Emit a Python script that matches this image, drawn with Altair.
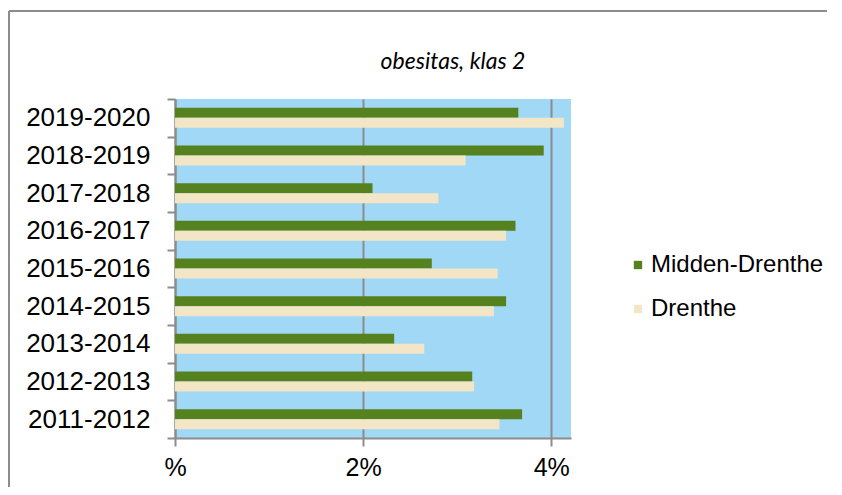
import altair as alt
import pandas as pd

years = ["2011-2012", "2012-2013", "2013-2014", "2014-2015", "2015-2016",
         "2016-2017", "2017-2018", "2018-2019", "2019-2020"]
midden_drenthe = [3.69, 3.16, 2.33, 3.52, 2.73, 3.62, 2.10, 3.92, 3.65]
drenthe = [3.45, 3.18, 2.65, 3.39, 3.43, 3.52, 2.80, 3.09, 4.135]
series = ["Midden-Drenthe", "Drenthe"]
colors = ["#55821E", "#F2E6C6"]
title_text = "obesitas, klas 2"

rows = []
for i, y in enumerate(years):
    rows.append({"jaar": y, "regio": series[0], "pct": midden_drenthe[i]})
    rows.append({"jaar": y, "regio": series[1], "pct": drenthe[i]})
df = pd.DataFrame(rows)

bars = alt.Chart(df).mark_bar().encode(
    x=alt.X("pct:Q",
            scale=alt.Scale(domain=[0, 4.21], nice=False, zero=True),
            axis=alt.Axis(values=[0, 2, 4], title=None, labelFlush=False,
                          labelExpr="datum.value == 0 ? '%' : datum.value + '%'",
                          labelFont="Liberation Sans", labelFontSize=25,
                          labelColor="#000000", labelPadding=9,
                          tickSize=8, tickColor="#8C8C8C", tickWidth=2,
                          domainColor="#8C8C8C", domainWidth=2,
                          grid=True, gridColor="#8C8C8C", gridWidth=2)),
    y=alt.Y("jaar:N", sort=list(reversed(years)),
            scale=alt.Scale(paddingInner=0, paddingOuter=0),
            axis=alt.Axis(title=None, tickBand="extent", grid=False,
                          labelFont="Liberation Sans", labelFontSize=26,
                          labelColor="#000000", labelPadding=17,
                          tickSize=8, tickColor="#8C8C8C", tickWidth=2,
                          domainColor="#8C8C8C", domainWidth=2)),
    yOffset=alt.YOffset("regio:N", sort=series,
                        scale=alt.Scale(paddingInner=0, paddingOuter=0.883)),
    color=alt.Color("regio:N", sort=series,
                    scale=alt.Scale(domain=series, range=colors),
                    legend=alt.Legend(title=None, orient="none",
                                      legendX=451, legendY=154,
                                      symbolType="square", symbolSize=70,
                                      symbolStrokeWidth=0,
                                      labelFont="Liberation Sans",
                                      labelFontSize=24, labelColor="#000000",
                                      labelLimit=400,
                                      labelOffset=1, rowPadding=20)),
)

frame_top = alt.Chart(alt.Data(values=[{}])).mark_rule(
    stroke="#8C8C8C", strokeWidth=2
).encode(x=alt.value(-166), x2=alt.value(652), y=alt.value(-88))

frame_left = alt.Chart(alt.Data(values=[{}])).mark_rule(
    stroke="#8C8C8C", strokeWidth=2
).encode(x=alt.value(-166), y=alt.value(-88), y2=alt.value(388))

title = alt.Chart(alt.Data(values=[{"t": title_text}])).mark_text(
    font="Lato", fontSize=23, fontStyle="italic", color="#000000",
    align="center", baseline="middle"
).encode(x=alt.value(278), y=alt.value(-37), text="t:N")

chart = alt.layer(frame_top, frame_left, title, bars).properties(
    width=396, height=339,
    autosize=alt.AutoSizeParams(type="none"),
    padding={"left": 167, "top": 91, "right": 263, "bottom": 49},
).configure_view(fill="#A0D8F5", stroke=None)

chart.save("out.html", embed_options={"renderer": "svg", "actions": False})
